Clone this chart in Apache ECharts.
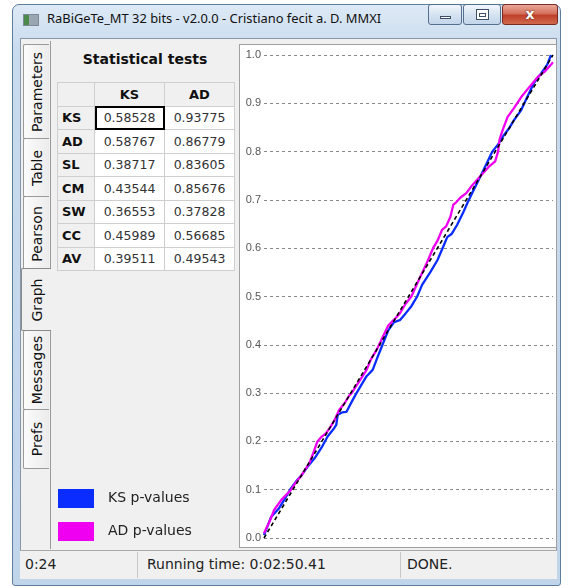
<!DOCTYPE html>
<html>
<head>
<meta charset="utf-8">
<script src="https://cdn.jsdelivr.net/npm/echarts@6/dist/echarts.min.js"></script>
<style>
  html,body{margin:0;padding:0;background:#fff;width:571px;height:588px;overflow:hidden;}
  .abs{position:absolute;box-sizing:border-box;}
  #win{left:12px;top:4px;width:549px;height:582px;border:1px solid #5f7d9c;border-radius:7px 7px 3px 3px;
       background:linear-gradient(180deg,#dde9f5 0%,#c9dbee 8%,#c0d4ea 100%);}
  #title{left:47px;top:9px;font-family:"Noto Sans",sans-serif;font-size:12.9px;color:#111;white-space:nowrap;}
  #icon{left:23px;top:14px;width:16px;height:12px;background:linear-gradient(90deg,#4c8a4c 0 35%,#9aa7b3 35% 100%);border:1px solid #7d8a96;}
  .btn{top:4px;height:21px;border:1px solid #55708e;border-radius:3px;background:linear-gradient(180deg,#f1f6fb 0%,#d6e3f1 50%,#c3d5ea 100%);}
  #bclose{background:linear-gradient(180deg,#eaa898 0%,#d3705b 45%,#c0412a 55%,#d06a4d 100%);border-color:#7a2a1e;}
  #client{left:20px;top:38px;width:537px;height:541px;background:#f0f0f0;border:1px solid #8796a8;}
  .tab{left:23px;width:26px;border:1px solid #9a9a9a;border-right:none;border-radius:2px 0 0 2px;
       background:linear-gradient(90deg,#fbfbfb,#ececec);}
  .tab.sel{left:21px;width:30px;background:#f0f0f0;border-color:#8a8a8a;z-index:2;}
  .tab span{position:absolute;left:50%;top:50%;transform:translate(-50%,-50%) rotate(-90deg);
       font-family:"DejaVu Sans",sans-serif;font-size:14px;color:#111;white-space:nowrap;}
  #tabline{left:50px;top:41px;width:1px;height:508px;background:#9a9a9a;}
  #sttitle{left:57px;top:51px;width:176px;text-align:center;font-family:"DejaVu Sans",sans-serif;font-weight:bold;font-size:14px;color:#111;}
  table{position:absolute;left:57px;top:82px;border-collapse:collapse;font-family:"DejaVu Sans",sans-serif;font-size:12.5px;color:#333;}
  td{border:1px solid #cfcfcf;height:22.5px;padding:0;text-align:center;background:#fff;}
  td.h{background:#f0f0f0;font-weight:bold;color:#111;font-size:13px;}
  td.rh{text-align:left;padding-left:4px;}
  td.sel{outline:2px solid #000;outline-offset:-2px;}
  #panel{left:239px;top:44px;width:318px;height:504px;background:#fff;border:1px solid #a0a0a0;}
  #status{left:20px;top:550px;width:537px;height:29px;background:#f0f0f0;border-top:1px solid #a8a8a8;}
  .st{top:556px;font-family:"DejaVu Sans",sans-serif;font-size:14px;color:#222;white-space:nowrap;}
  .sep{top:552px;width:1px;height:26px;background:#c8c8c8;}
  #chart{position:absolute;left:0;top:0;width:571px;height:588px;z-index:10;pointer-events:none;}
</style>
</head>
<body>
<div id="win" class="abs"></div>
<div id="icon" class="abs"></div>
<div id="title" class="abs">RaBiGeTe_MT 32 bits - v2.0.0 - Cristiano fecit a. D. MMXI</div>
<div class="abs btn" style="left:428px;width:34px;"><div class="abs" style="left:11px;top:11px;width:11px;height:3px;background:#fff;border:1px solid #3d4f66;"></div></div>
<div class="abs btn" style="left:463px;width:38px;"><div class="abs" style="left:12px;top:4px;width:13px;height:11px;border:1px solid #3d4f66;background:#fff;"><div class="abs" style="left:2px;top:3px;width:7px;height:4px;border:1px solid #3d4f66;"></div></div></div>
<div id="bclose" class="abs btn" style="left:502px;width:56px;"><div class="abs" style="left:0;top:0;width:54px;height:19px;text-align:center;font:bold 14px 'DejaVu Sans',sans-serif;color:#fff;line-height:19px;text-shadow:0 0 2px #5a1a10;">x</div></div>
<div id="client" class="abs"></div>

<div class="abs tab" style="top:44px;height:95px;"><span>Parameters</span></div>
<div class="abs tab" style="top:138px;height:59px;"><span>Table</span></div>
<div class="abs tab" style="top:196px;height:76px;"><span>Pearson</span></div>
<div class="abs tab sel" style="top:268px;height:63px;"><span>Graph</span></div>
<div class="abs tab" style="top:330px;height:80px;"><span>Messages</span></div>
<div class="abs tab" style="top:409px;height:60px;"><span>Prefs</span></div>
<div id="tabline" class="abs"></div>

<div id="sttitle" class="abs">Statistical tests</div>
<table id="tbl"></table>
<div id="panel" class="abs"></div>

<div id="status" class="abs"></div>
<div class="abs sep" style="left:137px;"></div>
<div class="abs sep" style="left:400px;"></div>
<div class="abs st" style="left:25px;">0:24</div>
<div class="abs st" style="left:147px;">Running time: 0:02:50.41</div>
<div class="abs st" style="left:407px;">DONE.</div>

<div id="chart"></div>
<script>
// ---- data ----
const testNames = ['KS','AD','SL','CM','SW','CC','AV'];
const colHeads = ['KS','AD'];
const ksCol = ['0.58528','0.58767','0.38717','0.43544','0.36553','0.45989','0.39511'];
const adCol = ['0.93775','0.86779','0.83605','0.85676','0.37828','0.56685','0.49543'];
const yTicks = [0,0.1,0.2,0.3,0.4,0.5,0.6,0.7,0.8,0.9,1.0];
const seriesNames = ['KS p-values','AD p-values'];
const ksPoints = [
 [0,0.006],[0.025,0.044],[0.05,0.06],[0.07,0.079],[0.09,0.1],[0.115,0.12],[0.13,0.13],[0.15,0.147],
 [0.175,0.165],[0.2,0.188],[0.22,0.21],[0.24,0.225],[0.25,0.234],[0.255,0.255],[0.27,0.26],[0.285,0.261],
 [0.307,0.286],[0.32,0.30],[0.34,0.32],[0.355,0.335],[0.376,0.348],[0.39,0.37],[0.41,0.40],[0.43,0.43],
 [0.45,0.447],[0.47,0.451],[0.49,0.465],[0.51,0.48],[0.53,0.5],[0.547,0.524],[0.575,0.55],[0.6,0.575],
 [0.62,0.603],[0.634,0.623],[0.65,0.63],[0.668,0.648],[0.69,0.675],[0.705,0.695],[0.72,0.714],[0.75,0.75],
 [0.77,0.775],[0.79,0.80],[0.81,0.815],[0.83,0.834],[0.85,0.85],[0.865,0.865],[0.89,0.886],[0.91,0.912],
 [0.934,0.942],[0.96,0.963],[0.98,0.98],[0.993,1.0]
];
const adPoints = [
 [0,0.01],[0.02,0.035],[0.035,0.058],[0.06,0.079],[0.094,0.1],[0.11,0.115],[0.13,0.13],[0.157,0.155],
 [0.17,0.175],[0.185,0.2],[0.2,0.21],[0.215,0.217],[0.23,0.23],[0.244,0.244],[0.26,0.265],[0.28,0.28],
 [0.295,0.295],[0.303,0.30],[0.33,0.325],[0.355,0.348],[0.37,0.37],[0.39,0.39],[0.41,0.415],[0.43,0.44],
 [0.45,0.452],[0.47,0.465],[0.49,0.485],[0.51,0.50],[0.525,0.52],[0.54,0.54],[0.56,0.565],[0.585,0.60],
 [0.6,0.615],[0.616,0.638],[0.63,0.645],[0.645,0.665],[0.655,0.69],[0.665,0.695],[0.68,0.705],[0.70,0.714],
 [0.72,0.73],[0.75,0.75],[0.78,0.77],[0.80,0.78],[0.81,0.80],[0.815,0.825],[0.826,0.845],[0.843,0.872],
 [0.865,0.89],[0.89,0.913],[0.92,0.935],[0.948,0.955],[0.97,0.965],[0.99,0.978],[1.0,0.985]
];
const diagonal = [[0,0],[1,1]];

// ---- table ----
(function(){
  const t = document.getElementById('tbl');
  let html = '<tr><td class="h" style="width:36px"></td><td class="h" style="width:69px">'+colHeads[0]+
             '</td><td class="h" style="width:69px">'+colHeads[1]+'</td></tr>';
  testNames.forEach((n,i)=>{
    html += '<tr><td class="h rh">'+n+'</td><td'+(i===0?' class="sel"':'')+'>'+ksCol[i]+'</td><td>'+adCol[i]+'</td></tr>';
  });
  t.innerHTML = html;
})();

// ---- chart ----
const chart = echarts.init(document.getElementById('chart'), null, {renderer:'canvas'});
chart.setOption({
  animation:false,
  backgroundColor:'transparent',
  grid:{left:264,right:18,top:55,bottom:50},
  xAxis:{type:'value',min:0,max:1,show:false},
  yAxis:{type:'value',min:0,max:1,interval:0.1,
    axisLine:{show:false},axisTick:{show:false},
    axisLabel:{formatter:v=>yTicks.includes(Math.round(v*10)/10)?v.toFixed(1):'',color:'#555',fontSize:11,fontFamily:'Liberation Sans',margin:3},
    splitLine:{lineStyle:{type:[3,3],color:'#888',width:1}}},
  legend:{orient:'vertical',left:58,top:489,padding:0,itemWidth:36,itemHeight:19,itemGap:14,icon:'rect',
    data:seriesNames,textStyle:{fontFamily:'DejaVu Sans',fontSize:14,color:'#222',padding:[0,0,0,9]}},
  series:[
    {name:seriesNames[0],type:'line',data:ksPoints,symbol:'none',color:'#0a2cff',lineStyle:{width:2.3,color:'#0a2cff'},z:3},
    {name:seriesNames[1],type:'line',data:adPoints,symbol:'none',color:'#f000f0',lineStyle:{width:2.3,color:'#f000f0'},z:4},
    {name:'diagonal',type:'line',data:diagonal,symbol:'none',lineStyle:{width:1.6,color:'#000',type:[4,3]},z:5}
  ]
});
</script>
</body>
</html>
